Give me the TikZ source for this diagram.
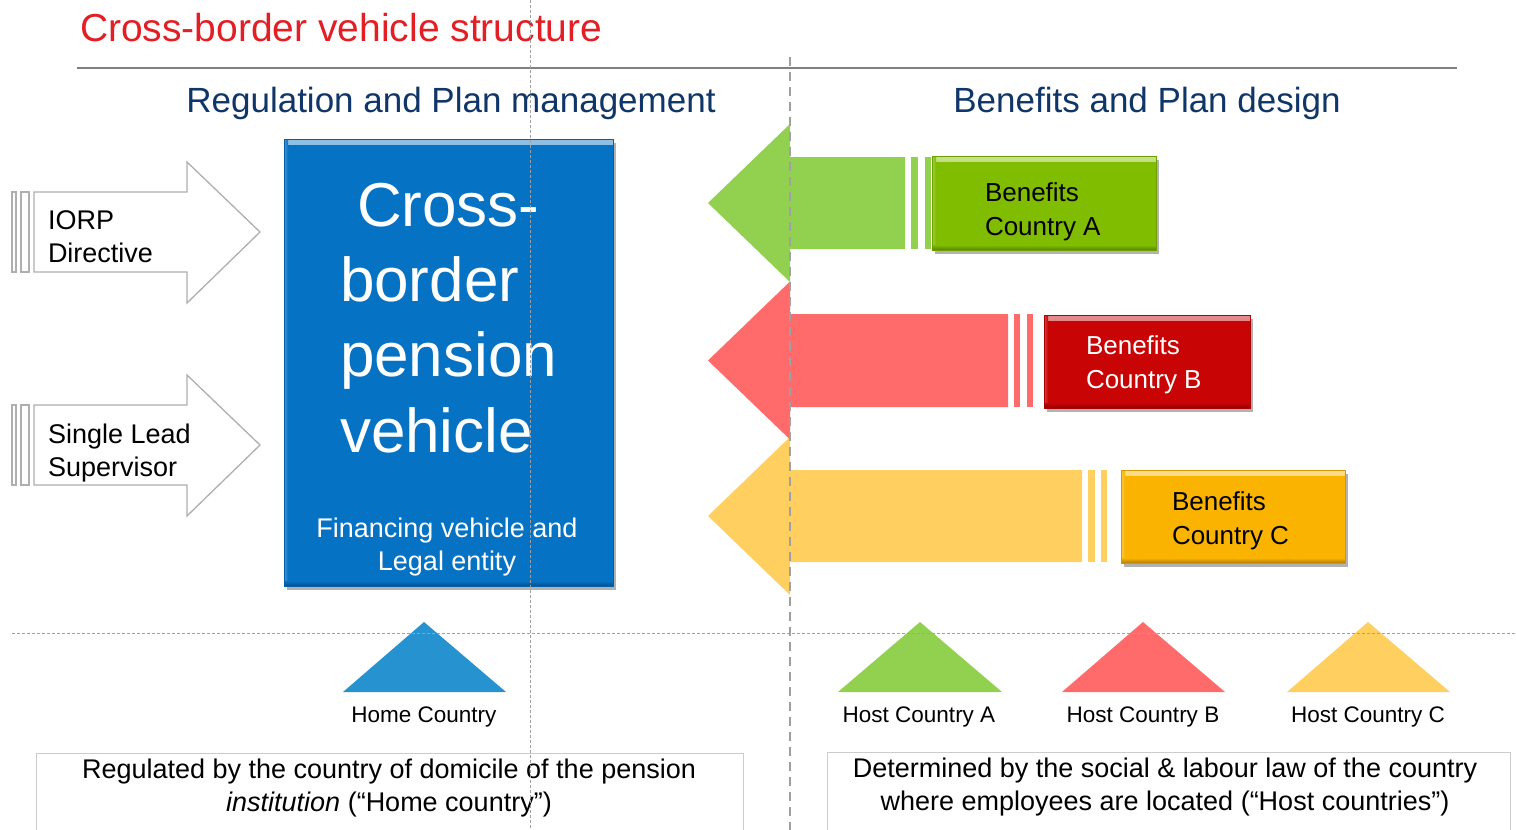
\documentclass[tikz,border=0pt]{standalone}
\usepackage{fontspec}
\setmainfont{Liberation Sans}
\usetikzlibrary{shadows}

\definecolor{titlered}{RGB}{227,30,36}
\definecolor{headblue}{RGB}{16,54,104}
\definecolor{vehblue}{RGB}{6,114,196}
\definecolor{homeblue}{RGB}{38,146,208}
\definecolor{agreen}{RGB}{146,208,80}
\definecolor{agreendk}{RGB}{128,188,0}
\definecolor{bred}{RGB}{255,107,107}
\definecolor{breddk}{RGB}{200,4,4}
\definecolor{cyel}{RGB}{255,208,96}
\definecolor{cyeldk}{RGB}{250,180,0}
\definecolor{guide}{RGB}{160,160,160}
\definecolor{outl}{RGB}{175,175,175}

\newcommand\fsz[2]{\fontsize{#1}{#2}\selectfont}

\begin{document}
\begin{tikzpicture}[x=1pt,y=-1pt,
  txt/.style={inner sep=0pt, outer sep=0pt},
  inarrow/.style={draw=outl, fill=white, line width=1.3pt, line join=miter},
  colbox/.style={minimum width=#1, inner sep=0pt, outer sep=0pt,
    drop shadow={shadow xshift=3pt, shadow yshift=-4pt, opacity=0.3, fill=black}},
  bevel/.style={fill=#1, draw=#1!85!black, line width=0.6pt,
    path picture={
      \shade[top color=#1!45!white, bottom color=#1]
        (path picture bounding box.north west) rectangle ([yshift=-5pt]path picture bounding box.north east);
      \shade[left color=#1!75!white, right color=#1]
        (path picture bounding box.north west) rectangle ([xshift=4pt]path picture bounding box.south west);
      \shade[top color=#1, bottom color=#1!70!black]
        ([yshift=5pt]path picture bounding box.south west) rectangle (path picture bounding box.south east);
    }},
  guidedot/.style={draw=guide, line width=0.8pt, dash pattern=on 2.5pt off 2.5pt},
  guidedash/.style={draw=guide, line width=1.3pt, dash pattern=on 9pt off 6pt},
  notebox/.style={draw=black!20, line width=1pt, fill=white}
]
\useasboundingbox (0,0) rectangle (1516,830);
\fill[white] (0,0) rectangle (1516,830);

% title and section headings
\node[txt, anchor=base west, text=titlered, font={\fsz{39}{44}}] (title) at (80,41) {Cross-border vehicle structure};
\draw[line width=2pt, draw=black!50] (77,68) -- (1457,68);
\node[txt, anchor=base, text=headblue, font={\fsz{35}{40}}] (lefthead) at (451,112) {Regulation and Plan management};
\node[txt, anchor=base, text=headblue, font={\fsz{35}{40}}] (righthead) at (1147,112) {Benefits and Plan design};

% incoming frameworks (outlined arrows)
\foreach \c in {232,445}{
  \draw[inarrow] (12,\c-40) rectangle (16,\c+40);
  \draw[inarrow] (21,\c-40) rectangle (29,\c+40);
  \draw[inarrow] (34,\c-40) -- (187,\c-40) -- (187,\c-70) -- (260,\c) -- (187,\c+71) -- (187,\c+40) -- (34,\c+40) -- cycle;
}
\node[txt, anchor=base west, align=left, font={\fsz{27}{33}}] (iorp) at (48,262) {IORP\\Directive};
\node[txt, anchor=base west, align=left, font={\fsz{27}{33}}] (lead) at (48,476) {Single Lead\\Supervisor};

% the pension vehicle
\node[colbox=329pt, minimum height=447pt, bevel=vehblue] (vehicle) at (448.5,362.5) {};
\node[txt, anchor=base west, align=left, text=white, font={\fsz{62}{75.3}}] (vehname) at (340,452)
  {\hspace*{17pt}Cross-\\border\\pension\\vehicle};
\node[txt, anchor=base, align=center, text=white, font={\fsz{27}{33}}] (vehsub) at (447,570)
  {Financing vehicle and\\Legal entity};

% benefit arrows towards the vehicle
\fill[agreen] (708,203) -- (790,124) -- (790,157) -- (905,157) -- (905,249) -- (790,249) -- (790,282) -- cycle;
\fill[agreen] (911,157) rectangle (918,249);
\fill[agreen] (925,157) rectangle (931,249);
\fill[bred] (708,360.5) -- (790,281.5) -- (790,314) -- (1008,314) -- (1008,407) -- (790,407) -- (790,439.5) -- cycle;
\fill[bred] (1014,314) rectangle (1020,407);
\fill[bred] (1027,314) rectangle (1033,407);
\fill[cyel] (708,516) -- (790,437) -- (790,470) -- (1082,470) -- (1082,562) -- (790,562) -- (790,595) -- cycle;
\fill[cyel] (1088,470) rectangle (1095,562);
\fill[cyel] (1101,470) rectangle (1107,562);

\node[colbox=224pt, minimum height=94pt, bevel=agreendk] (boxA) at (1044,203) {};
\node[txt, anchor=base west, align=left, font={\fsz{26}{34}}] (boxAtxt) at (985,235) {Benefits\\Country A};
\node[colbox=206pt, minimum height=93pt, bevel=breddk] (boxB) at (1147,361.5) {};
\node[txt, anchor=base west, align=left, text=white, font={\fsz{26}{34}}] (boxBtxt) at (1086,388) {Benefits\\Country B};
\node[colbox=224pt, minimum height=93pt, bevel=cyeldk] (boxC) at (1233,516.5) {};
\node[txt, anchor=base west, align=left, font={\fsz{26}{34}}] (boxCtxt) at (1172,544) {Benefits\\Country C};

% home and host countries
\fill[homeblue] (343,692) -- (424,622) -- (506,692) -- cycle;
\fill[agreen] (838,692) -- (920,622) -- (1002,692) -- cycle;
\fill[bred] (1062,692) -- (1143,622) -- (1225,692) -- cycle;
\fill[cyel] (1287,692) -- (1368,622) -- (1450,692) -- cycle;
\node[txt, anchor=base, font={\fsz{22.5}{27}}] (home) at (424,722) {Home Country};
\node[txt, anchor=base, font={\fsz{22.5}{27}}] (hostA) at (919,722) {Host Country A};
\node[txt, anchor=base, font={\fsz{22.5}{27}}] (hostB) at (1143,722) {Host Country B};
\node[txt, anchor=base, font={\fsz{22.5}{27}}] (hostC) at (1368,722) {Host Country C};

% explanatory notes
\draw[notebox] (36,753) rectangle (743,845);
\node[txt, anchor=base, align=center, font={\fsz{27}{33}}] (homenote) at (389,811)
  {Regulated by the country of domicile of the pension\\\textit{institution} (“Home country”)};
\draw[notebox] (827,752) rectangle (1510,845);
\node[txt, anchor=base, align=center, font={\fsz{27}{33}}] (hostnote) at (1165,810)
  {Determined by the social \& labour law of the country\\where employees are located (“Host countries”)};

% guide lines
\draw[guidedot] (530,0) -- (530,830);
\draw[guidedot] (12,633) -- (1516,633);
\draw[guidedash] (790,57) -- (790,830);
\end{tikzpicture}
\end{document}
